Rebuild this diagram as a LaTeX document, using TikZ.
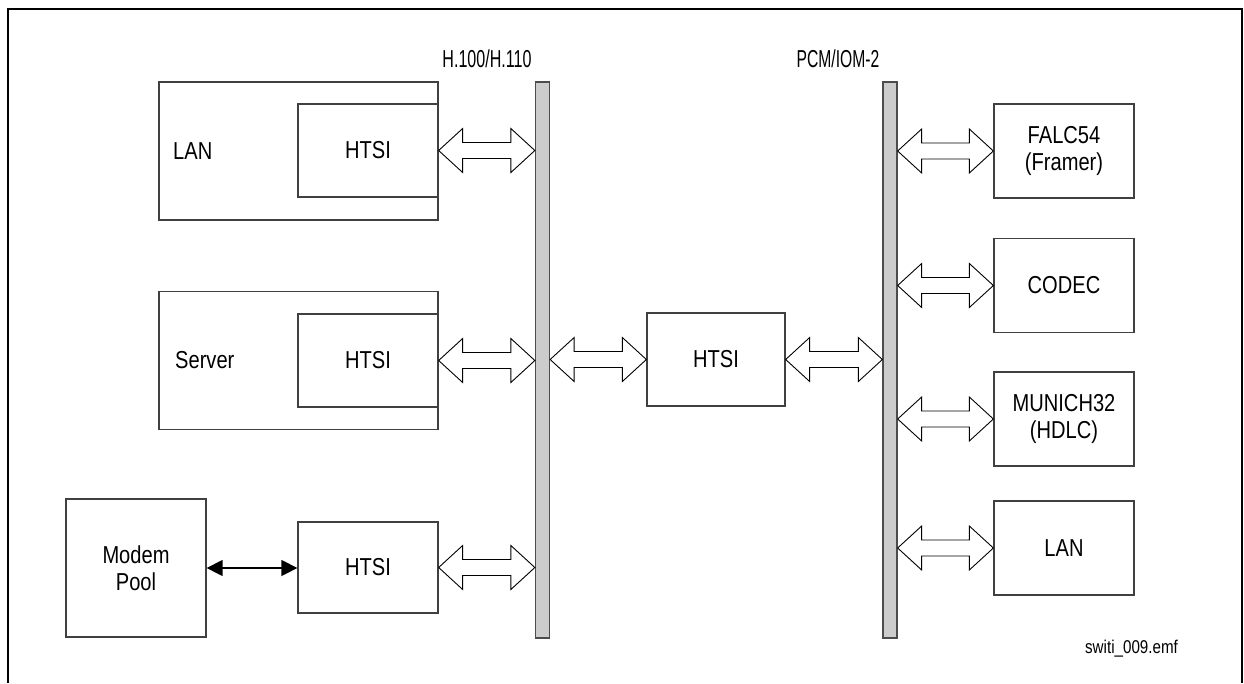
\documentclass[tikz,border=0pt]{standalone}
\usepackage{fontspec}
\setmainfont{Liberation Sans}[FakeStretch=0.82]
\usetikzlibrary{arrows.meta,calc}

% hollow two-headed block arrow between two points on the same level
\newcommand\dblarr[2]{%
  \path[dbl] let \p1=(#1), \p2=(#2) in
    (\x1,\y1) -- (\x1+24pt,\y1+22pt) -- (\x1+24pt,\y1+8pt)
    -- (\x2-24pt,\y1+8pt) -- (\x2-24pt,\y1+22pt) -- (\x2,\y1)
    -- (\x2-24pt,\y1-22pt) -- (\x2-24pt,\y1-8pt)
    -- (\x1+24pt,\y1-8pt) -- (\x1+24pt,\y1-22pt) -- cycle;}

\begin{document}
\begin{tikzpicture}[x=1pt,y=-1pt,
  lbl/.style={font=\fontsize{24.5}{27}\selectfont, inner sep=0pt, align=center},
  blk/.style={draw=black!75, line width=1.3pt, fill=white, inner sep=0pt, lbl,
              minimum width=140pt, minimum height=94pt},
  host/.style={draw=black!75, line width=1.3pt, fill=white, inner sep=0pt,
              minimum width=279pt, minimum height=138pt},
  bus/.style={draw=black!70, fill=black!20, line width=1.3pt, inner sep=0pt,
              minimum width=14pt, minimum height=556pt},
  dbl/.style={draw=black, line width=0.9pt, fill=white, line join=miter}
]
\useasboundingbox (0,0) rectangle (1244,683);

% page frame
\draw[line width=1.5pt] (8,683) -- (8,9) -- (1242,9) -- (1242,683);

% buses
\node[bus] (hbus) at (542.5,360) {};
\node[bus] (pbus) at (890,360) {};
\node[lbl, anchor=south] (hlab) at (487,68) {\scalebox{0.8}[1]{H.100/H.110}};
\node[lbl, anchor=south] (plab) at (838,68) {\scalebox{0.78}[1]{PCM/IOM-2}};

% host systems with their HTSI
\node[host] (lan) at (298.5,151) {};
\node[lbl, anchor=west] (lant) at (173,151) {LAN};
\node[blk, minimum height=93pt] (htsiA) at (368,150.5) {HTSI};

\node[host] (srv) at (298.5,360.5) {};
\node[lbl, anchor=west] (srvt) at (175,360) {Server};
\node[blk, minimum height=93pt] (htsiB) at (368,360.5) {HTSI};

\node[blk, minimum height=138pt] (modem) at (136,568) {Modem\\Pool};
\node[blk, minimum height=91pt] (htsiD) at (368,567.5) {HTSI};

% central switch
\node[blk, minimum width=138pt, minimum height=93pt] (htsiC) at (716,359.5) {HTSI};

% local devices
\node[blk] (falc) at (1064,151) {FALC54\\(Framer)};
\node[blk] (codec) at (1064,285.5) {CODEC};
\node[blk] (munich) at (1064,419) {MUNICH32\\(HDLC)};
\node[blk] (lan2) at (1064,548) {LAN};

% connections
\dblarr{htsiA.east}{htsiA.east -| hbus.west}
\dblarr{htsiB.east}{htsiB.east -| hbus.west}
\dblarr{htsiD.east}{htsiD.east -| hbus.west}
\dblarr{hbus.east |- htsiC.west}{htsiC.west}
\dblarr{htsiC.east}{htsiC.east -| pbus.west}
\dblarr{pbus.east |- falc.west}{falc.west}
\dblarr{pbus.east |- codec.west}{codec.west}
\dblarr{pbus.east |- munich.west}{munich.west}
\dblarr{pbus.east |- lan2.west}{lan2.west}

\draw[{Triangle[length=16pt,width=16pt]}-{Triangle[length=16pt,width=16pt]}, line width=1.5pt]
  (modem.east) -- (modem.east -| htsiD.west);

\node[font=\fontsize{18.5}{20}\selectfont, inner sep=0pt] (fname) at (1131.5,649) {switi\_009.emf};
\end{tikzpicture}
\end{document}
